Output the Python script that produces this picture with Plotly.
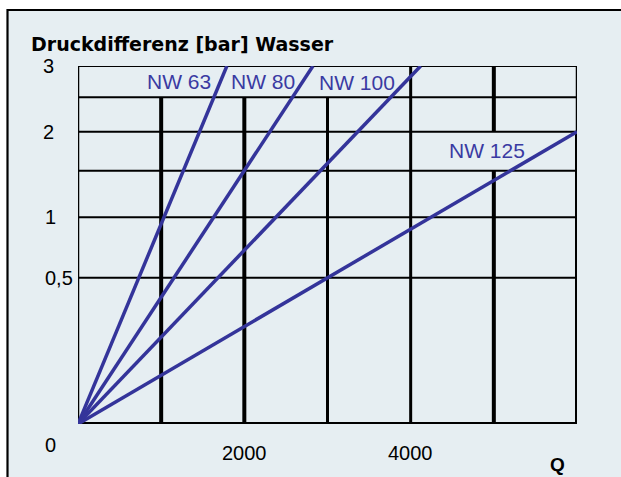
import math
import plotly.graph_objects as go

# ---------------- data ----------------
series_names = ["NW 63", "NW 80", "NW 100", "NW 125"]
series_q_end = [1790, 2825, 4120, 6000]      # Q at end of line
series_dp_end = [3, 3, 3, 2]                 # Druckdifferenz [bar] at end of line

q_grid = [0, 1000, 2000, 3000, 4000, 5000, 6000]
dp_grid = [0, 0.5, 1, 1.5, 2, 2.5, 3]

dp_tick_vals = [0.5, 1, 2, 3]
dp_tick_text = ["0,5", "1", "2", "3"]
q_tick_vals = [2000, 4000]
q_tick_text = ["2000", "4000"]

title_text = "Druckdifferenz [bar] Wasser"
x_title = "Q"

# ---------------- style ----------------
W, H = 621, 477
PL, PR, PT, PB = 78, 577, 66, 424   # plot area in pixels
ML, MT = PL, PT
PW, PH = PR - PL, PB - PT
MR, MB = W - ML - PW, H - MT - PH
BG = "#E6EEF2"
BLUE = "#34349A"
TXT_BLUE = "#3A3AA2"
FONT = "Liberation Sans, Arial, sans-serif"


def ys(v):
    # square-root pressure scale (Q proportional to sqrt of pressure drop)
    return math.sqrt(v)


def px_to_paper_x(px):
    return (px - PL) / PW


def px_to_paper_y(py):
    return (PB - py) / PH


fig = go.Figure()

for name, q, dp in zip(series_names, series_q_end, series_dp_end):
    fig.add_trace(go.Scatter(
        x=[0, q], y=[ys(0), ys(dp)], mode="lines", name=name,
        line=dict(color=BLUE, width=3.5), showlegend=False, hoverinfo="skip"))

shapes = []
# white page strips outside the frame (left and top) + frame border lines
shapes.append(dict(type="rect", xref="paper", yref="paper",
                   x0=px_to_paper_x(0), x1=px_to_paper_x(7.5),
                   y0=px_to_paper_y(H), y1=px_to_paper_y(0),
                   fillcolor="white", line=dict(width=0), layer="below"))
shapes.append(dict(type="rect", xref="paper", yref="paper",
                   x0=px_to_paper_x(0), x1=px_to_paper_x(W),
                   y0=px_to_paper_y(10), y1=px_to_paper_y(0),
                   fillcolor="white", line=dict(width=0), layer="below"))
shapes.append(dict(type="line", xref="paper", yref="paper",
                   x0=px_to_paper_x(7.5), x1=px_to_paper_x(W),
                   y0=px_to_paper_y(10), y1=px_to_paper_y(10),
                   line=dict(color="black", width=2.2), layer="below"))
shapes.append(dict(type="line", xref="paper", yref="paper",
                   x0=px_to_paper_x(7.5), x1=px_to_paper_x(7.5),
                   y0=px_to_paper_y(H), y1=px_to_paper_y(9),
                   line=dict(color="black", width=2.2), layer="below"))

# horizontal grid lines
for dp in dp_grid:
    shapes.append(dict(type="line", xref="x", yref="y",
                       x0=q_grid[0], x1=q_grid[-1], y0=ys(dp), y1=ys(dp),
                       line=dict(color="black", width=4 if dp == 0 else 2),
                       layer="below"))

# vertical grid segments: (grid index, dp from, dp to, width)
v_style = [
    (0, 0, 3, 2.5),
    (1, 0, 2.5, 4),
    (2, 0, 2.5, 4),
    (3, 0, 2.5, 3),
    (4, 0, 3, 3),
    (5, 0, 1.5, 4),
    (5, 2, 3, 4),
    (6, 0, 2, 4),
    (6, 2, 3, 2.5),
]
for gi, d0, d1, wd in v_style:
    q = q_grid[gi]
    shapes.append(dict(type="line", xref="x", yref="y",
                       x0=q, x1=q, y0=ys(d0), y1=ys(d1),
                       line=dict(color="black", width=wd), layer="below"))

annotations = []
# series labels (position: pixel centre)
label_pos = [(179, 81.5), (262.5, 81.5), (356.5, 82.5), (487, 150)]
for name, (lx, ly) in zip(series_names, label_pos):
    annotations.append(dict(text=name, xref="paper", yref="paper",
                            x=px_to_paper_x(lx), y=px_to_paper_y(ly),
                            xanchor="center", yanchor="middle", showarrow=False,
                            font=dict(family=FONT, size=21, color=TXT_BLUE)))

# y tick labels
y_label_px = [59, 50, 48, 48]
for v, t, lx in zip(dp_tick_vals, dp_tick_text, y_label_px):
    annotations.append(dict(text=t, xref="paper", yref="y",
                            x=px_to_paper_x(lx), y=ys(v),
                            xanchor="center", yanchor="middle", showarrow=False,
                            font=dict(family=FONT, size=20, color="black")))

# zero label
annotations.append(dict(text="0", xref="paper", yref="paper",
                        x=px_to_paper_x(50), y=px_to_paper_y(445),
                        xanchor="center", yanchor="middle", showarrow=False,
                        font=dict(family=FONT, size=20, color="black")))
# x tick labels
for v, t in zip(q_tick_vals, q_tick_text):
    annotations.append(dict(text=t, xref="x", yref="paper",
                            x=v, y=px_to_paper_y(453),
                            xanchor="center", yanchor="middle", showarrow=False,
                            font=dict(family=FONT, size=20, color="black")))
# x axis title
annotations.append(dict(text="<b>" + x_title + "</b>", xref="paper", yref="paper",
                        x=px_to_paper_x(557), y=px_to_paper_y(465),
                        xanchor="center", yanchor="middle", showarrow=False,
                        font=dict(family=FONT, size=19, color="black")))
# chart title
annotations.append(dict(text="<b>" + title_text + "</b>", xref="paper", yref="paper",
                        x=px_to_paper_x(29), y=px_to_paper_y(44),
                        xanchor="left", yanchor="middle", showarrow=False,
                        font=dict(family="DejaVu Sans, sans-serif", size=19, color="black")))

fig.update_layout(
    width=W, height=H,
    margin=dict(l=ML, r=MR, t=MT, b=MB, pad=0),
    paper_bgcolor=BG,
    plot_bgcolor="rgba(0,0,0,0)",
    shapes=shapes,
    annotations=annotations,
    showlegend=False,
    xaxis=dict(range=[q_grid[0], q_grid[-1]], showgrid=False, zeroline=False,
               showticklabels=False, ticks="", fixedrange=True),
    yaxis=dict(range=[ys(dp_grid[0]), ys(dp_grid[-1])], showgrid=False, zeroline=False,
               showticklabels=False, ticks="", fixedrange=True),
)

page_css = ("document.body.style.margin='0';"
            "document.body.style.overflow='hidden';"
            "document.documentElement.style.overflow='hidden';")
fig.write_html("out.html", config={"displayModeBar": False}, post_script=page_css)
